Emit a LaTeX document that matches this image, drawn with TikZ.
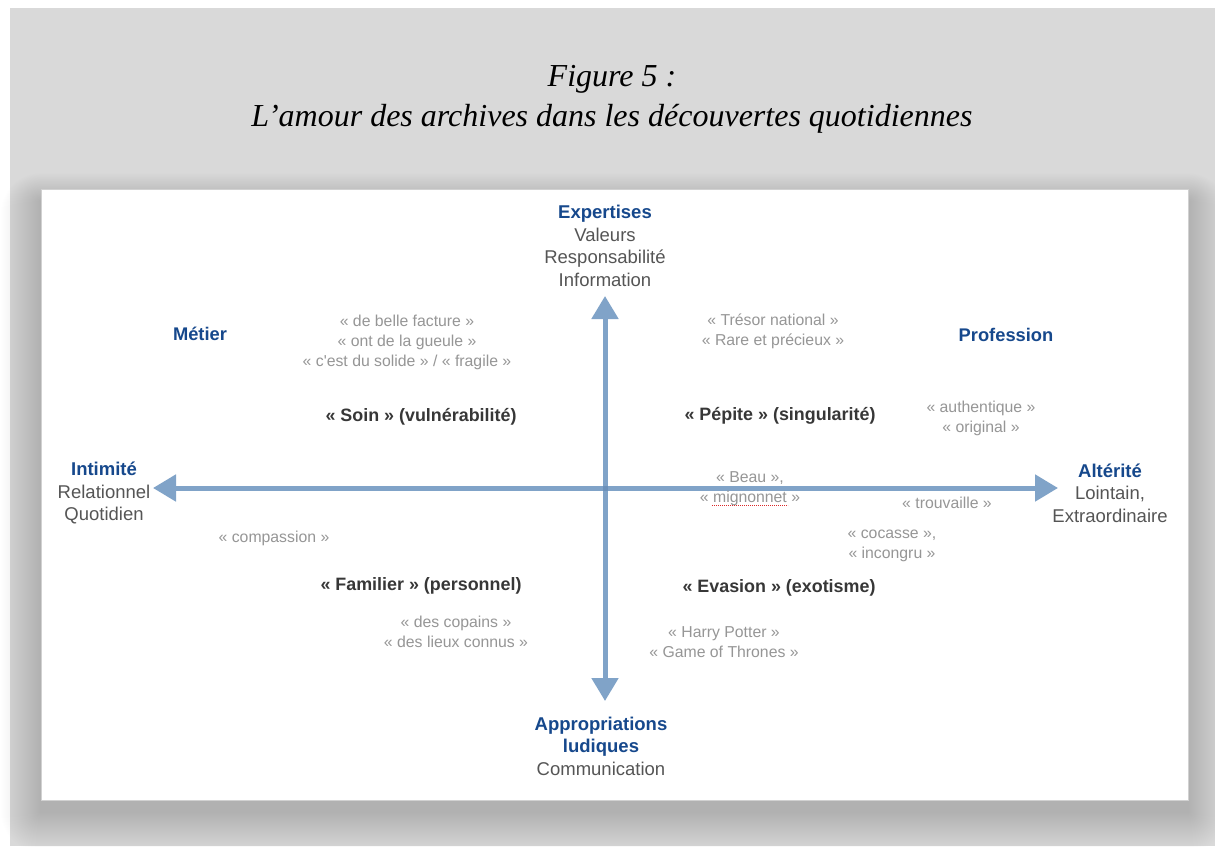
\documentclass[tikz,border=0pt]{standalone}
\usepackage{fontspec}
\setmainfont{Liberation Serif}
\newfontfamily\sansf{Liberation Sans}
\usetikzlibrary{arrows.meta,calc}
\definecolor{bggray}{RGB}{217,217,217}
\definecolor{headblue}{RGB}{22,72,140}
\definecolor{descgray}{RGB}{85,85,85}
\definecolor{quotegray}{RGB}{150,150,150}
\definecolor{quadgray}{RGB}{55,55,55}
\definecolor{axisblue}{RGB}{128,163,200}
\definecolor{axisdark}{RGB}{108,145,186}
\definecolor{spellred}{RGB}{220,40,40}
\tikzset{
  head/.style={font=\sansf\bfseries\fontsize{18.3}{22}\selectfont, text=headblue, inner sep=0pt},
  axislabel/.style={font=\sansf\fontsize{18.5}{22.5}\selectfont, text=descgray, align=center, inner sep=0pt},
  quote/.style={font=\sansf\fontsize{15.8}{20}\selectfont, text=quotegray, align=center, inner sep=0pt},
  quad/.style={font=\sansf\bfseries\fontsize{17.9}{22}\selectfont, text=quadgray, inner sep=0pt},
  axis/.style={draw=axisblue, fill=axisblue, line width=5pt, -{Triangle[length=23pt,width=26pt]}},
  titletext/.style={font=\itshape\fontsize{32}{40}\selectfont, align=center, inner sep=0pt}
}
\begin{document}
\begin{tikzpicture}[x=1pt,y=-1pt]
\useasboundingbox (0,0) rectangle (1215,846);
% background
\fill[white] (0,0) rectangle (1215,846);
\fill[bggray] (10,8) rectangle (1215,846);
% shadow of panel
\foreach \i in {1,...,40}{
  \fill[black, opacity=0.0045, rounded corners=\i pt] (41-\i,189-\i*0.7+12) rectangle (1188+\i,800+\i+12);
}
% panel
\fill[white] (41,189) rectangle (1188,800);
\draw[black!18, line width=0.6pt] (41,189) rectangle (1188,800);
% title
\node[titletext] (title) at (612,99) {Figure 5 :\\L’amour des archives dans les découvertes quotidiennes};
% axis ends
\coordinate (xl) at (153,488);
\coordinate (xr) at (1058,488);
\coordinate (yt) at (605,296);
\coordinate (yb) at (605,701);
\coordinate (o) at (605,488);
\draw[axis] (o) -- (xl);
\draw[axis] (o) -- (xr);
\draw[axis] (o) -- (yt);
\draw[axis] (o) -- (yb);
\fill[axisdark] ($(o)+(-2.5,-2.5)$) rectangle ($(o)+(2.5,2.5)$);
% axis labels
\node[axislabel] (exp) at (605,246) {{\bfseries\color{headblue}Expertises}\\Valeurs\\Responsabilité\\Information};
\node[axislabel] (app) at (601,746) {{\bfseries\color{headblue}Appropriations}\\{\bfseries\color{headblue}ludiques}\\Communication};
\node[axislabel] (int) at (104,493) {{\bfseries\color{headblue}Intimité}\\Relationnel\\Quotidien};
\node[axislabel] (alt) at (1110,493) {{\bfseries\color{headblue}Altérité}\\Lointain,\\Extraordinaire};
% quadrant headings
\node[head] (metier) at (200,334) {Métier};
\node[head] (prof) at (1006,335) {Profession};
% quadrant labels
\node[quad] (soin) at (421,417) {« Soin » (vulnérabilité)};
\node[quad] (pep) at (780,416) {« Pépite » (singularité)};
\node[quad] (fam) at (421,586) {« Familier » (personnel)};
\node[quad] (eva) at (779,588) {« Evasion » (exotisme)};
% quotes
\node[quote] (q1) at (407,342) {« de belle facture »\\« ont de la gueule »\\« c'est du solide » / « fragile »};
\node[quote] (q2) at (773,331) {« Trésor national »\\« Rare et précieux »};
\node[quote] (q3) at (981,418) {« authentique »\\« original »};
\node[quote] (q4) at (750,489) {« Beau »,\\« mignonnet »};
\node[quote] (q5) at (947,503) {« trouvaille »};
\node[quote] (q6) at (274,538) {« compassion »};
\node[quote] (q7) at (892,546) {« cocasse »,\\« incongru »};
\node[quote] (q8) at (456,632) {« des copains »\\« des lieux connus »};
\node[quote] (q9) at (724,642) {« Harry Potter »\\« Game of Thrones »};
% spell-check underline
\draw[spellred, line width=0.9pt, dash pattern=on 1.2pt off 0.8pt] ($(q4.south)+(-38,-1)$) -- ($(q4.south)+(38,-1)$);
\end{tikzpicture}
\end{document}
